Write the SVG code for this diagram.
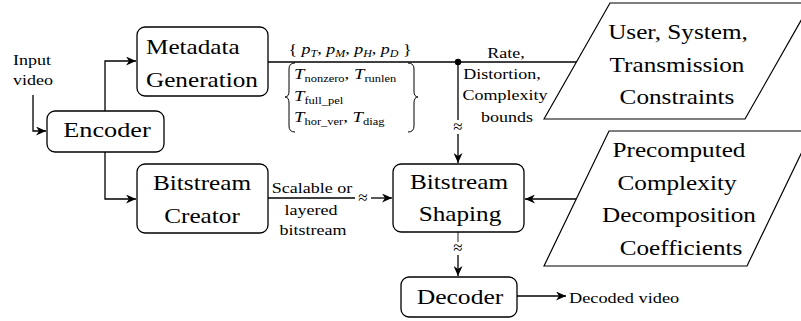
<svg xmlns="http://www.w3.org/2000/svg" width="801" height="321" viewBox="0 0 801 321">
<defs>
<marker id="ah" markerUnits="userSpaceOnUse" markerWidth="11" markerHeight="9" refX="10" refY="4.5" orient="auto">
<path d="M0,0 L10,4.5 L0,9 L3,4.5 z" fill="#000"/>
</marker>
</defs>

<g id="connectors" fill="none" stroke="#000" stroke-width="1.3">
<path d="M33,95 V131 H46" marker-end="url(#ah)"/>
<path d="M105,111 V61 H136" marker-end="url(#ah)"/>
<path d="M105,152 V199 H136" marker-end="url(#ah)"/>
<path d="M268,62 H577"/>
<circle cx="458" cy="62" r="3.2" fill="#000" stroke="none"/>
<path d="M458,62 V120"/>
<path d="M458,134 V163" marker-end="url(#ah)"/>
<path d="M267,198 H355"/>
<path d="M371,198 H392" marker-end="url(#ah)"/>
<path d="M578,199 H525" marker-end="url(#ah)"/>
<path d="M458,232 V242" stroke="#555"/>
<path d="M458,255 V276" marker-end="url(#ah)"/>
<path d="M517,296 H566" marker-end="url(#ah)"/>
</g>
<g id="breaks">
<text font-family="Liberation Serif" font-size="17" x="458" y="132" text-anchor="middle">≈</text>
<text font-family="Liberation Serif" font-size="17" x="363" y="203" text-anchor="middle">≈</text>
<text font-family="Liberation Serif" font-size="17" x="458" y="253" text-anchor="middle">≈</text>
</g>

<g id="input-label">
<text font-family="Liberation Serif" font-size="15" text-anchor="middle" transform="translate(32,65) scale(1.2,1)">Input</text>
<text font-family="Liberation Serif" font-size="15" text-anchor="middle" transform="translate(33,85) scale(1.2,1)">video</text>
</g>

<g id="encoder">
<rect x="47" y="111" width="117" height="41" rx="8" fill="#fff" stroke="#000" stroke-width="1.3"/>
<text font-family="Liberation Serif" font-size="21" text-anchor="middle" transform="translate(107,137) scale(1.25,1)">Encoder</text>
</g>

<g id="metadata-generation">
<rect x="137" y="27" width="131" height="69" rx="8" fill="#fff" stroke="#000" stroke-width="1.3"/>
<text font-family="Liberation Serif" font-size="21" transform="translate(146,54) scale(1.2,1)">Metadata</text>
<text font-family="Liberation Serif" font-size="21" transform="translate(146,87) scale(1.2,1)">Generation</text>
</g>

<g id="bitstream-creator">
<rect x="137" y="164" width="131" height="69" rx="8" fill="#fff" stroke="#000" stroke-width="1.3"/>
<text font-family="Liberation Serif" font-size="21" text-anchor="middle" transform="translate(202,190) scale(1.2,1)">Bitstream</text>
<text font-family="Liberation Serif" font-size="21" text-anchor="middle" transform="translate(202,223) scale(1.2,1)">Creator</text>
</g>

<g id="bitstream-shaping">
<rect x="393" y="164" width="131" height="68" rx="8" fill="#fff" stroke="#000" stroke-width="1.3"/>
<text font-family="Liberation Serif" font-size="21" text-anchor="middle" transform="translate(459,189) scale(1.2,1)">Bitstream</text>
<text font-family="Liberation Serif" font-size="21" text-anchor="middle" transform="translate(460,221) scale(1.2,1)">Shaping</text>
</g>

<g id="decoder">
<rect x="401" y="277" width="116" height="40" rx="8" fill="#fff" stroke="#000" stroke-width="1.3"/>
<text font-family="Liberation Serif" font-size="21" text-anchor="middle" transform="translate(460,304) scale(1.22,1)">Decoder</text>
</g>

<g id="constraints">
<path d="M544,119 L610,3 L811,3 L745,119 Z" fill="#fff" stroke="#000" stroke-width="1.2"/>
<text font-family="Liberation Serif" font-size="21" text-anchor="middle" transform="translate(678,39) scale(1.2,1)">User, System,</text>
<text font-family="Liberation Serif" font-size="21" text-anchor="middle" transform="translate(677,72) scale(1.2,1)">Transmission</text>
<text font-family="Liberation Serif" font-size="21" text-anchor="middle" transform="translate(677,104) scale(1.2,1)">Constraints</text>
</g>

<g id="coefficients">
<path d="M544,266 L609,131 L812,131 L747,266 Z" fill="#fff" stroke="#000" stroke-width="1.2"/>
<text font-family="Liberation Serif" font-size="21" text-anchor="middle" transform="translate(679,157) scale(1.2,1)">Precomputed</text>
<text font-family="Liberation Serif" font-size="21" text-anchor="middle" transform="translate(677,190) scale(1.2,1)">Complexity</text>
<text font-family="Liberation Serif" font-size="21" text-anchor="middle" transform="translate(679,222) scale(1.2,1)">Decomposition</text>
<text font-family="Liberation Serif" font-size="21" text-anchor="middle" transform="translate(681,255) scale(1.2,1)">Coefficients</text>
</g>

<g id="metadata-label">
<text font-family="Liberation Serif" font-size="15" text-anchor="middle" transform="translate(350,54) scale(1.2,1)">{ <tspan font-style="italic">p</tspan><tspan font-style="italic" font-size="10" dy="3">T</tspan><tspan dy="-3">, </tspan><tspan font-style="italic">p</tspan><tspan font-style="italic" font-size="10" dy="3">M</tspan><tspan dy="-3">, </tspan><tspan font-style="italic">p</tspan><tspan font-style="italic" font-size="10" dy="3">H</tspan><tspan dy="-3">, </tspan><tspan font-style="italic">p</tspan><tspan font-style="italic" font-size="10" dy="3">D</tspan><tspan dy="-3"> }</tspan></text>
<path fill="none" stroke="#000" stroke-width="1" d="M295,63 Q289,63 289,69 V91 Q289,97 285,97 Q289,97 289,103 V126 Q289,132 295,132"/>
<path fill="none" stroke="#000" stroke-width="1" d="M408,63 Q414,63 414,69 V91 Q414,97 418,97 Q414,97 414,103 V126 Q414,132 408,132"/>
<text font-family="Liberation Serif" font-size="15" transform="translate(294,79) scale(1.25,1)"><tspan font-style="italic">T</tspan><tspan font-size="10" dy="3">nonzero</tspan><tspan dy="-3">, </tspan><tspan font-style="italic">T</tspan><tspan font-size="10" dy="3">runlen</tspan></text>
<text font-family="Liberation Serif" font-size="15" transform="translate(294,101) scale(1.25,1)"><tspan font-style="italic">T</tspan><tspan font-size="10" dy="3">full_pel</tspan></text>
<text font-family="Liberation Serif" font-size="15" transform="translate(294,122) scale(1.25,1)"><tspan font-style="italic">T</tspan><tspan font-size="10" dy="3">hor_ver</tspan><tspan dy="-3">, </tspan><tspan font-style="italic">T</tspan><tspan font-size="10" dy="3">diag</tspan></text>
</g>

<g id="rate-label">
<text font-family="Liberation Serif" font-size="15" text-anchor="middle" transform="translate(506,58) scale(1.2,1)">Rate,</text>
<text font-family="Liberation Serif" font-size="15" text-anchor="middle" transform="translate(502,79) scale(1.2,1)">Distortion,</text>
<text font-family="Liberation Serif" font-size="15" text-anchor="middle" transform="translate(505,100) scale(1.2,1)">Complexity</text>
<text font-family="Liberation Serif" font-size="15" text-anchor="middle" transform="translate(507,122) scale(1.2,1)">bounds</text>
</g>

<g id="bitstream-label">
<text font-family="Liberation Serif" font-size="15" text-anchor="middle" transform="translate(312,193) scale(1.2,1)">Scalable or</text>
<text font-family="Liberation Serif" font-size="15" text-anchor="middle" transform="translate(311,215) scale(1.2,1)">layered</text>
<text font-family="Liberation Serif" font-size="15" text-anchor="middle" transform="translate(313,235) scale(1.2,1)">bitstream</text>
</g>

<g id="output-label">
<text font-family="Liberation Serif" font-size="15" transform="translate(569,303) scale(1.22,1)">Decoded video</text>
</g>
</svg>
